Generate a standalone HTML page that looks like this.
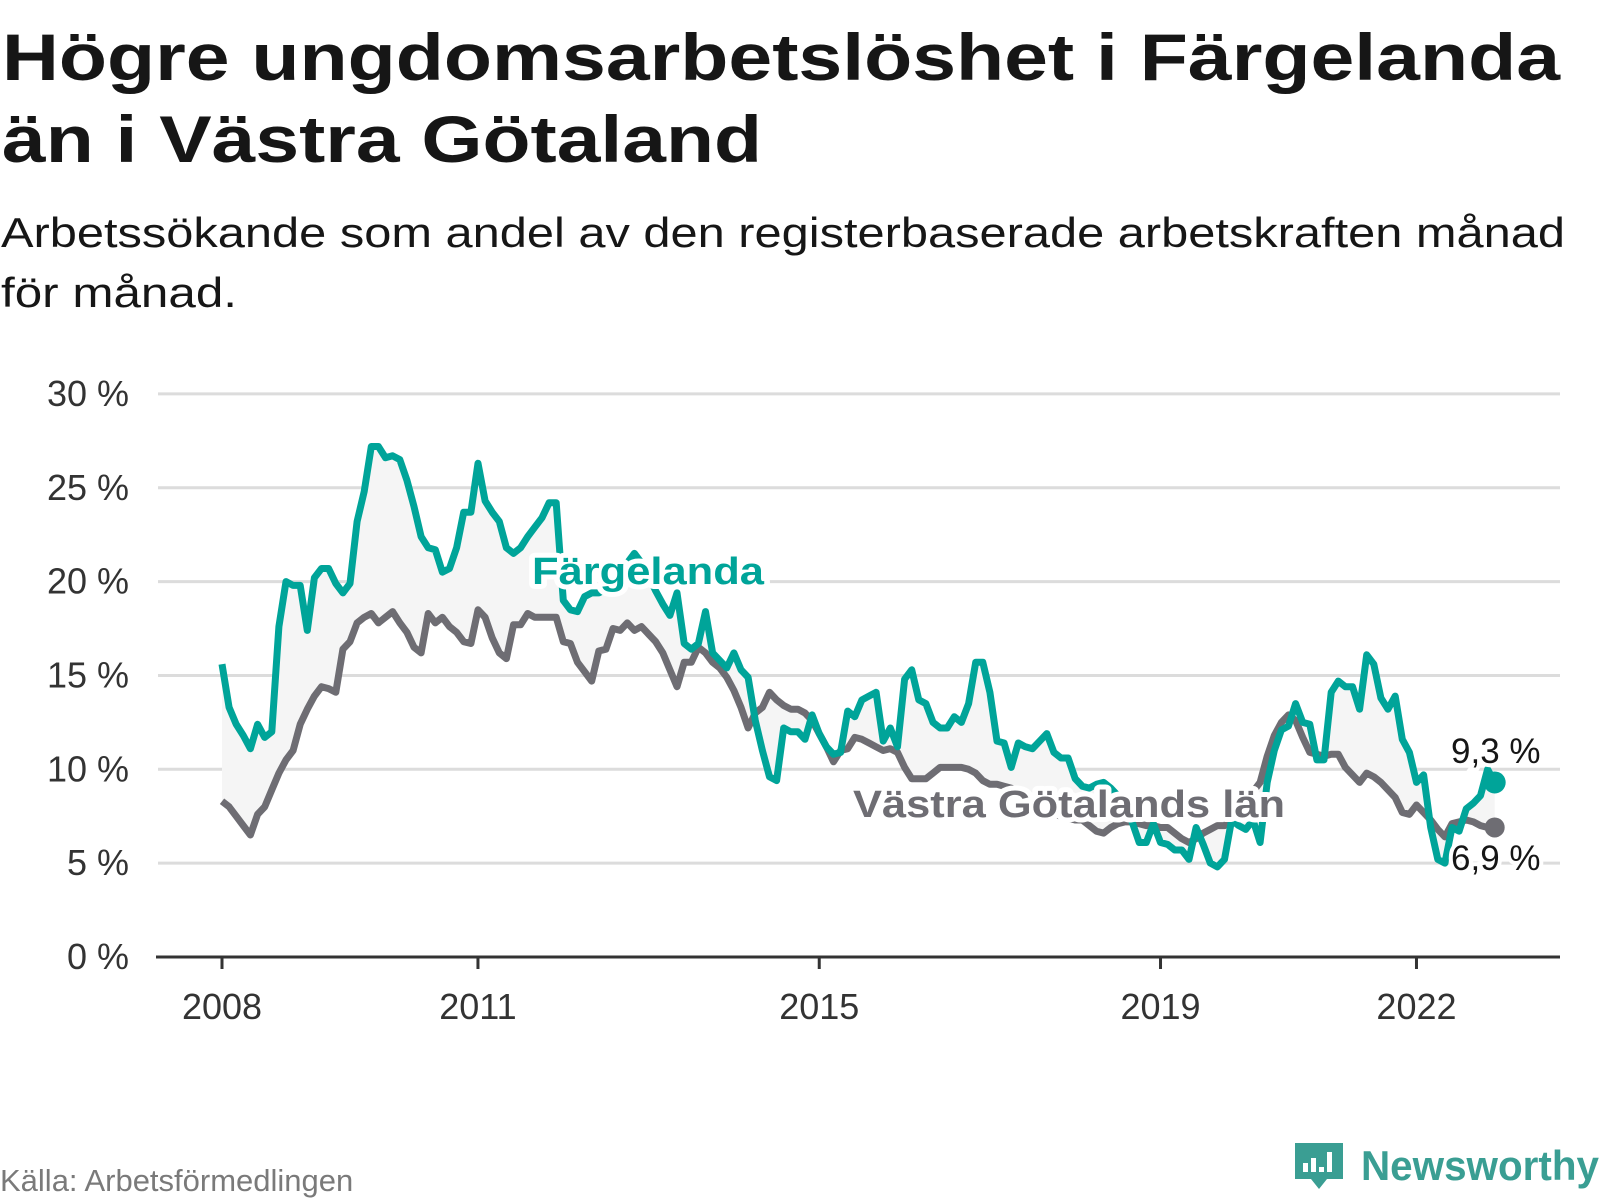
<!DOCTYPE html>
<html><head><meta charset="utf-8"><style>
html,body{margin:0;padding:0;background:#fff;}
svg{display:block;font-family:"Liberation Sans",sans-serif;}
</style></head><body>
<svg id="chart" width="1600" height="1200" viewBox="0 0 1600 1200" xmlns="http://www.w3.org/2000/svg">
<text x="2" y="80" font-size="66" font-weight="bold" fill="#161616" textLength="1558" lengthAdjust="spacingAndGlyphs">Högre ungdomsarbetslöshet i Färgelanda</text>
<text x="2" y="162" font-size="66" font-weight="bold" fill="#161616" textLength="760" lengthAdjust="spacingAndGlyphs">än i Västra Götaland</text>
<text x="1" y="247" font-size="42" fill="#161616" textLength="1564" lengthAdjust="spacingAndGlyphs">Arbetssökande som andel av den registerbaserade arbetskraften månad</text>
<text x="1" y="307" font-size="42" fill="#161616" textLength="236" lengthAdjust="spacingAndGlyphs">för månad.</text>
<g id="grid"></g>
<g id="yticks"></g>
<g id="xticks"></g>
<path id="band" fill="#f5f5f5"></path>
<path id="lineV" fill="none" stroke="#6e6d73" stroke-width="7" stroke-linejoin="round"></path>
<path id="lineF" fill="none" stroke="#00a499" stroke-width="7" stroke-linejoin="round"></path>
<g font-weight="bold" font-size="38">
<text x="532" y="584" fill="#00a499" stroke="#fff" stroke-width="10" stroke-linejoin="round" paint-order="stroke" textLength="232" lengthAdjust="spacingAndGlyphs">Färgelanda</text>
<text x="853" y="817" fill="#6e6d73" stroke="#fff" stroke-width="10" stroke-linejoin="round" paint-order="stroke" textLength="432" lengthAdjust="spacingAndGlyphs">Västra Götalands län</text>
</g>
<circle id="dotV" r="10" fill="#6e6d73"></circle>
<circle id="dotF" r="11" fill="#00a499"></circle>
<text id="endF" x="1451" y="763" font-size="35" fill="#161616" stroke="#fff" stroke-width="8" paint-order="stroke">9,3 %</text>
<text id="endV" x="1451" y="870" font-size="35" fill="#161616" stroke="#fff" stroke-width="8" paint-order="stroke">6,9 %</text>
<text x="0" y="1191" font-size="31" fill="#7a7a7a">Källa: Arbetsförmedlingen</text>
<g>
<path d="M1295 1143 h48 v36 h-16 l-8 10 l-8 -10 h-16 z" fill="#3a9e93"/>
<rect x="1303" y="1163" width="5" height="9" fill="#fff"/><rect x="1311" y="1158" width="5" height="14" fill="#fff"/><rect x="1319" y="1167" width="5" height="5" fill="#fff"/><rect x="1327" y="1152" width="5" height="20" fill="#fff"/>
<text x="1361" y="1180" font-size="42" font-weight="bold" fill="#3a9e93" textLength="238" lengthAdjust="spacingAndGlyphs">Newsworthy</text>
</g>
</svg>
<script>
const yTicks = [0,5,10,15,20,25,30];
const yTickLabels = ["0 %","5 %","10 %","15 %","20 %","25 %","30 %"];
const xTickYears = [2008,2011,2015,2019,2022];
const startYear = 2008;
const fargelanda = [
15.6,13.3,12.4,11.8,11.1,12.4,11.7,12.0,17.6,20.0,19.8,19.8,
17.4,20.2,20.7,20.7,19.9,19.4,19.9,23.2,24.8,27.2,27.2,26.6,
26.7,26.5,25.4,24.0,22.4,21.8,21.7,20.5,20.7,21.8,23.7,23.7,
26.3,24.3,23.7,23.2,21.8,21.5,21.8,22.4,22.9,23.4,24.2,24.2,
19.0,18.5,18.4,19.2,19.4,19.4,19.6,20.0,20.5,21.0,21.5,21.0,
20.3,19.5,18.8,18.2,19.4,16.7,16.4,16.7,18.4,16.2,15.8,15.4,
16.2,15.3,14.9,12.6,11.0,9.6,9.4,12.2,12.0,12.0,11.6,12.9,
11.9,11.2,10.8,10.9,13.1,12.8,13.7,13.9,14.1,11.5,12.2,11.2,
14.8,15.3,13.7,13.5,12.5,12.2,12.2,12.8,12.5,13.5,15.7,15.7,
14.1,11.5,11.4,10.1,11.4,11.2,11.1,11.5,11.9,10.9,10.6,10.6,
9.5,9.1,9.0,9.2,9.3,9.0,8.6,8.0,7.2,6.1,6.1,7.1,
6.1,6.0,5.7,5.7,5.2,6.9,6.0,5.0,4.8,5.2,7.3,7.0,
6.8,7.3,6.1,9.3,11.0,12.1,12.3,13.5,12.5,12.4,10.5,10.5,
14.1,14.7,14.4,14.4,13.2,16.1,15.6,13.8,13.2,13.9,11.6,10.9,
9.3,9.7,6.9,5.2,5.0,6.9,6.7,7.9,8.2,8.6,10.0,9.3
];
const vastraGotaland = [
8.3,8.0,7.5,7.0,6.5,7.6,8.0,8.9,9.8,10.5,11.0,12.4,
13.2,13.9,14.4,14.3,14.1,16.4,16.8,17.8,18.1,18.3,17.8,18.1,
18.4,17.8,17.3,16.5,16.2,18.3,17.8,18.1,17.6,17.3,16.8,16.7,
18.5,18.1,17.0,16.2,15.9,17.7,17.7,18.3,18.1,18.1,18.1,18.1,
16.8,16.7,15.7,15.2,14.7,16.3,16.4,17.5,17.4,17.8,17.4,17.6,
17.2,16.8,16.2,15.3,14.4,15.7,15.7,16.5,16.2,15.7,15.4,14.9,
14.2,13.3,12.2,13.0,13.3,14.1,13.7,13.4,13.2,13.2,13.0,12.6,
11.9,11.2,10.4,11.0,11.1,11.7,11.6,11.4,11.2,11.0,11.1,10.9,
10.1,9.5,9.5,9.5,9.8,10.1,10.1,10.1,10.1,10.0,9.8,9.4,
9.2,9.2,9.1,9.0,8.8,8.5,8.3,8.0,7.8,7.6,7.5,7.4,
7.3,7.3,7.0,6.7,6.6,6.9,7.1,7.2,7.2,7.1,7.0,7.0,
6.9,6.9,6.6,6.3,6.1,6.3,6.6,6.8,7.0,7.0,7.3,7.8,
8.3,8.8,9.3,10.7,11.8,12.5,12.9,12.6,11.7,10.9,10.8,10.7,
10.8,10.8,10.1,9.7,9.3,9.8,9.6,9.3,8.9,8.5,7.7,7.6,
8.1,7.7,7.3,6.8,6.4,7.1,7.2,7.3,7.2,7.0,6.9,6.9
];
const NS='http://www.w3.org/2000/svg';
const X0=222, STEP=7.11, Y0=957, YK=18.77;
function xs(i){return X0+i*STEP;}
function ys(v){return Y0-v*YK;}
function mk(tag,attrs,parent){const e=document.createElementNS(NS,tag);for(const k in attrs)e.setAttribute(k,attrs[k]);parent.appendChild(e);return e;}
const grid=document.getElementById('grid'), yg=document.getElementById('yticks'), xg=document.getElementById('xticks');
yTicks.forEach((t,k)=>{
  if(t!==0){const l=mk('line',{x1:158,x2:1560,y1:ys(t),y2:ys(t),stroke:'#dcdcdc','stroke-width':3},grid);
  
  }
  const tx=mk('text',{x:129,y:ys(t)+12,'text-anchor':'end','font-size':36,fill:'#333'},yg);
  tx.textContent=yTickLabels[k];
  
  
});
const ax=mk('line',{x1:156,x2:1560,y1:Y0,y2:Y0,stroke:'#333','stroke-width':3},xg);


xTickYears.forEach(yr=>{
  const x=xs((yr-startYear)*12);
  const t=mk('line',{x1:x,x2:x,y1:Y0,y2:Y0+12,stroke:'#333','stroke-width':3},xg);
  
  
  const tx=mk('text',{x:x,y:1019,'text-anchor':'middle','font-size':36,fill:'#333'},xg);
  tx.textContent=yr;
  
  
});
function pathOf(arr){return arr.map((v,i)=>(i?'L':'M')+xs(i).toFixed(1)+' '+ys(v).toFixed(1)).join(' ');}
document.getElementById('lineF').setAttribute('d',pathOf(fargelanda));
document.getElementById('lineV').setAttribute('d',pathOf(vastraGotaland));
let band=pathOf(fargelanda);
for(let i=vastraGotaland.length-1;i>=0;i--)band+=' L'+xs(i).toFixed(1)+' '+ys(vastraGotaland[i]).toFixed(1);
document.getElementById('band').setAttribute('d',band+' Z');
const nF=fargelanda.length-1,nV=vastraGotaland.length-1;
const dF=document.getElementById('dotF');dF.setAttribute('cx',xs(nF));dF.setAttribute('cy',ys(fargelanda[nF]));
const dV=document.getElementById('dotV');dV.setAttribute('cx',xs(nV));dV.setAttribute('cy',ys(vastraGotaland[nV]));
document.getElementById('endF').textContent=fargelanda[nF].toFixed(1).replace('.',',')+' %';
document.getElementById('endV').textContent=vastraGotaland[nV].toFixed(1).replace('.',',')+' %';
</script>
</body></html>
